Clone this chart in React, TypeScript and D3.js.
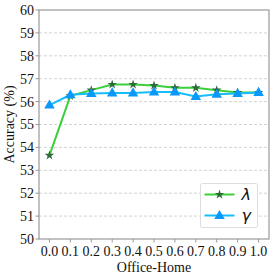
import { scaleLinear, line, symbol, symbolStar, symbolTriangle } from 'd3'

const xs = [0.0, 0.1, 0.2, 0.3, 0.4, 0.5, 0.6, 0.7, 0.8, 0.9, 1.0]
const lambdaVals = [53.65, 56.25, 56.5, 56.75, 56.75, 56.7, 56.6, 56.6, 56.5, 56.4, 56.4]
const gammaVals = [55.85, 56.3, 56.35, 56.38, 56.38, 56.42, 56.42, 56.22, 56.32, 56.35, 56.4]
const yTicks = [50, 51, 52, 53, 54, 55, 56, 57, 58, 59, 60]
const xTickLabels = ['0.0', '0.1', '0.2', '0.3', '0.4', '0.5', '0.6', '0.7', '0.8', '0.9', '1.0']

const font = "'Liberation Serif', 'DejaVu Serif', serif"

const App = () => {
  const width = 275
  const height = 277
  const margin = { top: 10, right: 6, bottom: 38, left: 39 }
  const plotWidth = width - margin.left - margin.right
  const plotHeight = height - margin.top - margin.bottom

  const xScale = scaleLinear().domain([-0.05, 1.05]).range([0, plotWidth])
  const yScale = scaleLinear().domain([50, 60]).range([plotHeight, 0])

  const lineGen = line<number>()
    .x((_, i) => xScale(xs[i]))
    .y(d => yScale(d))

  const star = symbol().type(symbolStar).size(28)()
  const tri = symbol().type(symbolTriangle).size(48)()

  const green = '#3ccf3c'
  const starColor = '#2f6b3a'
  const blueLine = '#17bdfb'
  const blueMark = '#0a98fa'

  return (
    <div style={{ position: 'absolute', left: 0, top: 0 }}>
      <svg width={width} height={height} fontFamily={font} style={{ display: 'block' }}>
        <rect width={width} height={height} fill="white" />
        <g transform={`translate(${margin.left}, ${margin.top})`}>
          {yTicks.slice(1, -1).map(t => (
            <line key={t} x1={0} x2={plotWidth} y1={yScale(t)} y2={yScale(t)}
              stroke="#c8c8c8" strokeWidth={0.8} strokeDasharray="3,2" />
          ))}
          <path d={lineGen(lambdaVals) || ''} fill="none" stroke={green} strokeWidth={2} />
          {lambdaVals.map((v, i) => (
            <path key={i} d={star || ''} transform={`translate(${xScale(xs[i])}, ${yScale(v)})`}
              fill={starColor} />
          ))}
          <path d={lineGen(gammaVals) || ''} fill="none" stroke={blueLine} strokeWidth={2} />
          {gammaVals.map((v, i) => (
            <path key={i} d={tri || ''} transform={`translate(${xScale(xs[i])}, ${yScale(v) + 0.5})`}
              fill={blueMark} />
          ))}
          <rect x={0} y={0} width={plotWidth} height={plotHeight} fill="none" stroke="#999" strokeWidth={1.2} />
          {yTicks.map(t => (
            <g key={t} transform={`translate(0, ${yScale(t)})`}>
              <line x1={-3.5} x2={0} stroke="#999" />
              <text x={-5} dy="0.35em" textAnchor="end" fontSize={14} fill="#111">{t}</text>
            </g>
          ))}
          {xs.map((t, i) => (
            <g key={t} transform={`translate(${xScale(t)}, ${plotHeight})`}>
              <line y1={0} y2={3.5} stroke="#999" />
              <text y={17} textAnchor="middle" fontSize={14} fill="#111">{xTickLabels[i]}</text>
            </g>
          ))}
          <text x={plotWidth / 2} y={plotHeight + 33} textAnchor="middle" fontSize={14} fill="#111">Office-Home</text>
          <text transform={`translate(${-25}, ${plotHeight / 2}) rotate(-90)`} textAnchor="middle" fontSize={14} fill="#111">Accuracy (%)</text>
          <g transform={`translate(${161.5}, ${173.5})`}>
            <rect x={0} y={0} width={57} height={44} rx={2} fill="white" stroke="#ddd" />
            <line x1={4} x2={34} y1={11} y2={11} stroke={green} strokeWidth={2} />
            <path d={star || ''} transform="translate(19, 11)" fill={starColor} />
            <text x={41} y={16} fontStyle="italic" fontSize={16} fill="#111" fontFamily="'DejaVu Sans', sans-serif">λ</text>
            <line x1={4} x2={34} y1={32} y2={32} stroke={blueLine} strokeWidth={2} />
            <path d={tri || ''} transform="translate(19, 32.5)" fill={blueMark} />
            <text x={41} y={37} fontStyle="italic" fontSize={16} fill="#111" fontFamily="'DejaVu Sans', sans-serif">γ</text>
          </g>
        </g>
      </svg>
    </div>
  )
}

export default App
